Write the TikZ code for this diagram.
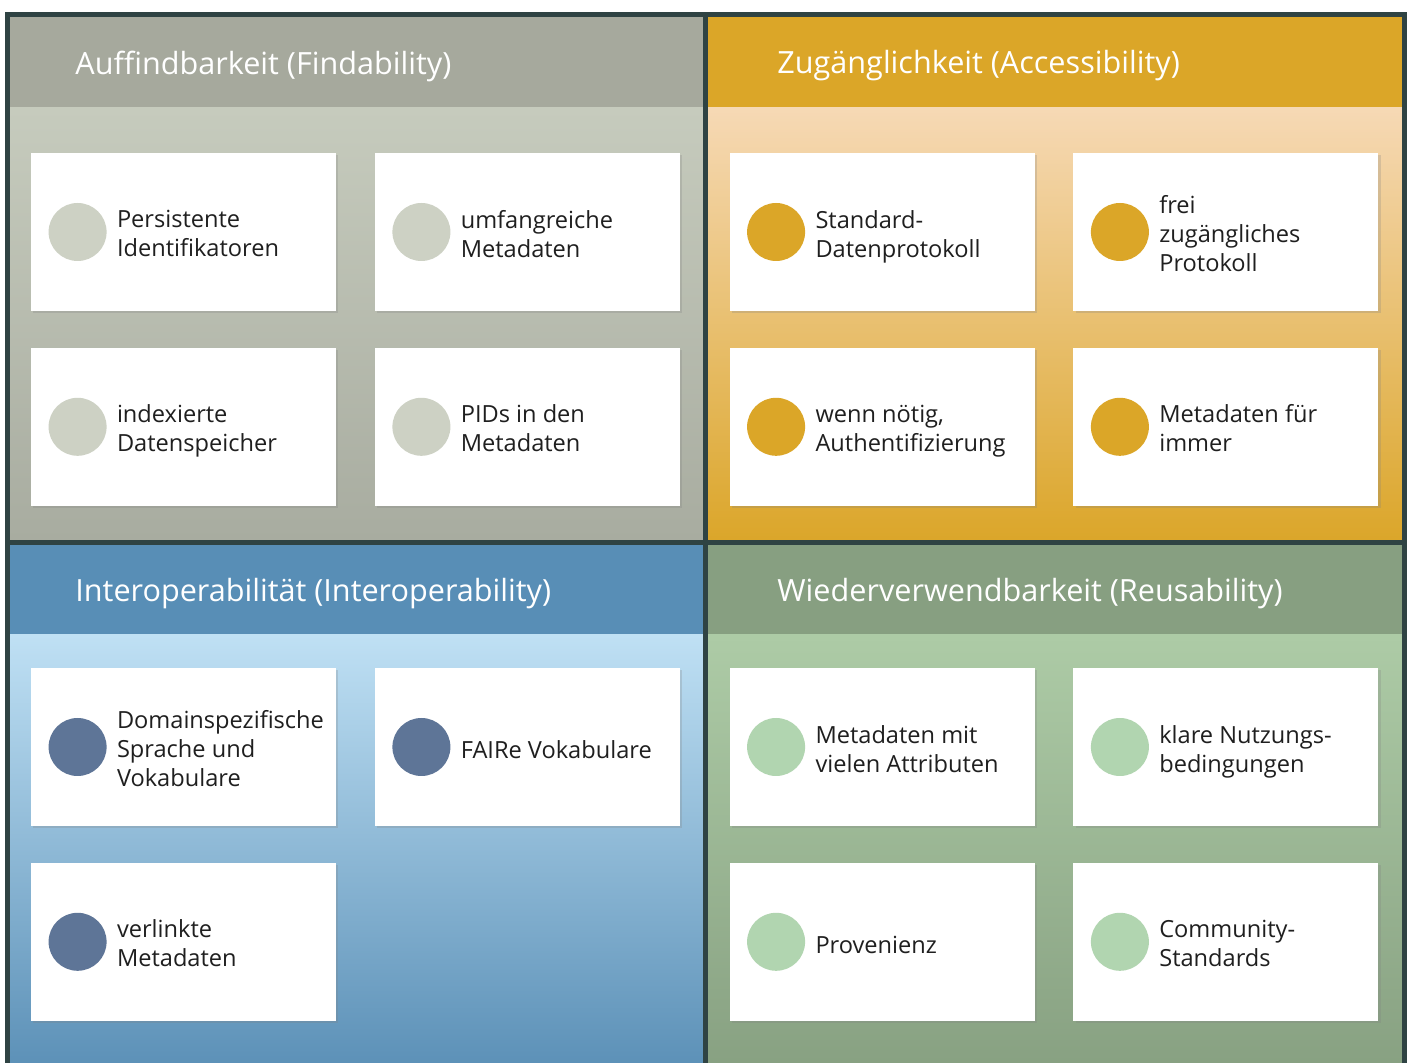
\documentclass[tikz,border=0pt]{standalone}
\usepackage{fontspec}
\setmainfont{Open Sans}
\usetikzlibrary{positioning,shadows}

% quadrant colours
\definecolor{frameline}{HTML}{2F4343}
\definecolor{findHead}{HTML}{A6A99D}
\definecolor{findTop}{HTML}{C6CBBD}
\definecolor{findBot}{HTML}{A8ACA0}
\definecolor{findDot}{HTML}{CDD1C4}
\definecolor{accHead}{HTML}{DBA628}
\definecolor{accTop}{HTML}{F6D9B5}
\definecolor{accBot}{HTML}{DBA62A}
\definecolor{intHead}{HTML}{588EB6}
\definecolor{intTop}{HTML}{BFE0F4}
\definecolor{intBot}{HTML}{5A8FB6}
\definecolor{intDot}{HTML}{5E7597}
\definecolor{reuHead}{HTML}{879F81}
\definecolor{reuTop}{HTML}{ADCBA6}
\definecolor{reuBot}{HTML}{87A081}
\definecolor{reuDot}{HTML}{B1D5B0}

\begin{document}
\begin{tikzpicture}[x=0.5pt, y=-0.5pt,
    card/.style={fill=white, minimum width=152.5pt, minimum height=79pt, inner sep=0pt,
        drop shadow={shadow xshift=1.2pt, shadow yshift=-1.2pt, opacity=0.25}},
    dot/.style={circle, minimum size=29pt, inner sep=0pt},
    item/.style={anchor=west, align=left, inner sep=0pt, text=black!88, yshift=-3pt,
        font=\fontsize{11.8}{14.5}\selectfont,
        execute at begin node=\strut, execute at end node=\strut},
    heading/.style={anchor=west, inner sep=0pt, text=white, font=\fontsize{15.3}{17}\selectfont},
    node distance=18pt and 19pt]

    \useasboundingbox (0,0) rectangle (1409,1063);
    \clip (0,0) rectangle (1409,1063);

    % quadrant backgrounds
    \fill[findHead] (10,17) rectangle (703,108);
    \shade[top color=findTop, bottom color=findBot] (10,108) rectangle (703,540);
    \fill[accHead] (708,17) rectangle (1402,108);
    \shade[top color=accTop, bottom color=accBot] (708,108) rectangle (1402,540);
    \fill[intHead] (10,545) rectangle (703,635);
    \shade[top color=intTop, bottom color=intBot] (10,635) rectangle (703,1075);
    \fill[reuHead] (708,545) rectangle (1402,635);
    \shade[top color=reuTop, bottom color=reuBot] (708,635) rectangle (1402,1075);

    % frame and dividers
    \draw[frameline, line width=2.5pt] (7.5,14.5) rectangle (1404.5,1080);
    \draw[frameline, line width=2.5pt] (705.5,14.5) -- (705.5,1080);
    \draw[frameline, line width=2.5pt] (7.5,542.5) -- (1404.5,542.5);

    \node[heading] (findT) at (75,66) {Auffindbarkeit (Findability)};
    \node[heading] (accT) at (777,66) {Zugänglichkeit (Accessibility)};
    \node[heading] (intT) at (75,594) {Interoperabilität (Interoperability)};
    \node[heading] (reuT) at (777,594) {Wiederverwendbarkeit (Reusability)};

    % Findability
    \node[card] (fA) at (183.5,232) {};
    \node[card, right=of fA] (fB) {};
    \node[card, below=of fA] (fC) {};
    \node[card, below=of fB] (fD) {};
    \node[dot, fill=findDot] (fAd) at ([xshift=23.5pt]fA.west) {};
    \node[item] (fAt) at ([xshift=43pt]fA.west) {Persistente\\Identifikatoren};
    \node[dot, fill=findDot] (fBd) at ([xshift=23.5pt]fB.west) {};
    \node[item] (fBt) at ([xshift=43pt]fB.west) {umfangreiche\\Metadaten};
    \node[dot, fill=findDot] (fCd) at ([xshift=23.5pt]fC.west) {};
    \node[item] (fCt) at ([xshift=43pt]fC.west) {indexierte\\Datenspeicher};
    \node[dot, fill=findDot] (fDd) at ([xshift=23.5pt]fD.west) {};
    \node[item] (fDt) at ([xshift=43pt]fD.west) {PIDs in den\\Metadaten};

    % Accessibility
    \node[card] (aA) at (882,232) {};
    \node[card, right=of aA] (aB) {};
    \node[card, below=of aA] (aC) {};
    \node[card, below=of aB] (aD) {};
    \node[dot, fill=accHead] (aAd) at ([xshift=23.5pt]aA.west) {};
    \node[item] (aAt) at ([xshift=43pt]aA.west) {Standard-\\Datenprotokoll};
    \node[dot, fill=accHead] (aBd) at ([xshift=23.5pt]aB.west) {};
    \node[item] (aBt) at ([xshift=43pt]aB.west) {frei\\zugängliches\\Protokoll};
    \node[dot, fill=accHead] (aCd) at ([xshift=23.5pt]aC.west) {};
    \node[item] (aCt) at ([xshift=43pt]aC.west) {wenn nötig,\\Authentifizierung};
    \node[dot, fill=accHead] (aDd) at ([xshift=23.5pt]aD.west) {};
    \node[item] (aDt) at ([xshift=43pt]aD.west) {Metadaten für\\immer};

    % Interoperability
    \node[card] (iA) at (183.5,747) {};
    \node[card, right=of iA] (iB) {};
    \node[card, below=of iA] (iC) {};
    \node[dot, fill=intDot] (iAd) at ([xshift=23.5pt]iA.west) {};
    \node[item] (iAt) at ([xshift=43pt]iA.west) {Domainspezifische\\Sprache und\\Vokabulare};
    \node[dot, fill=intDot] (iBd) at ([xshift=23.5pt]iB.west) {};
    \node[item] (iBt) at ([xshift=43pt]iB.west) {FAIRe Vokabulare};
    \node[dot, fill=intDot] (iCd) at ([xshift=23.5pt]iC.west) {};
    \node[item] (iCt) at ([xshift=43pt]iC.west) {verlinkte\\Metadaten};

    % Reusability
    \node[card] (rA) at (882,747) {};
    \node[card, right=of rA] (rB) {};
    \node[card, below=of rA] (rC) {};
    \node[card, below=of rB] (rD) {};
    \node[dot, fill=reuDot] (rAd) at ([xshift=23.5pt]rA.west) {};
    \node[item] (rAt) at ([xshift=43pt]rA.west) {Metadaten mit\\vielen Attributen};
    \node[dot, fill=reuDot] (rBd) at ([xshift=23.5pt]rB.west) {};
    \node[item] (rBt) at ([xshift=43pt]rB.west) {klare Nutzungs-\\bedingungen};
    \node[dot, fill=reuDot] (rCd) at ([xshift=23.5pt]rC.west) {};
    \node[item] (rCt) at ([xshift=43pt]rC.west) {Provenienz};
    \node[dot, fill=reuDot] (rDd) at ([xshift=23.5pt]rD.west) {};
    \node[item] (rDt) at ([xshift=43pt]rD.west) {Community-\\Standards};

\end{tikzpicture}
\end{document}
